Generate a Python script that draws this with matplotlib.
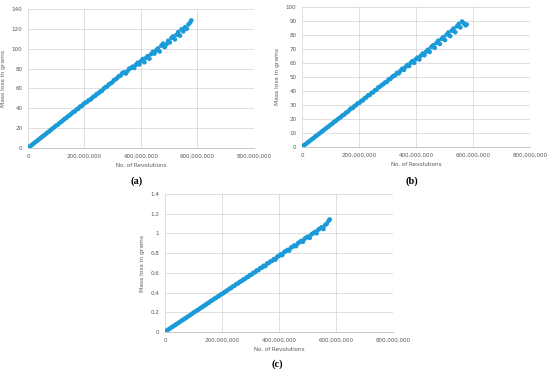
import matplotlib
matplotlib.use("Agg")
import matplotlib.pyplot as plt
from matplotlib.ticker import FuncFormatter

# revolutions (millions) shared by all three panels
revs_m = [0, 5, 10, 16, 22, 28, 34, 40, 46, 52, 58, 64, 70, 76, 82, 88, 94, 100,
          106, 112, 118, 124, 130, 136, 142, 148, 154, 160, 166, 172, 178, 184, 190,
          196, 202, 208, 214, 220, 226, 232, 238, 244, 250, 256, 262, 268, 274, 280,
          286, 292, 298, 304, 310, 316, 322, 328, 334, 340, 346, 352, 358, 364, 370,
          376, 382, 388, 394, 400, 406, 412, 418, 424, 430, 436, 442, 448, 454, 460,
          466, 472, 478, 484, 490, 496, 502, 508, 514, 520, 526, 532, 538, 544, 550,
          556, 562, 568, 574, 578]

loss_a = [0.5, 1.2, 2.3, 3.6, 5.0, 6.3, 7.6, 9.0, 10.3, 11.8, 13.0, 14.4, 15.8, 17.0,
          18.5, 19.8, 21.2, 22.6, 23.6, 25.3, 26.4, 27.9, 29.4, 30.3, 32.0, 33.1, 34.6,
          36.2, 36.9, 38.8, 39.7, 41.6, 42.3, 44.1, 45.5, 46.2, 47.9, 48.6, 50.1, 51.8,
          52.5, 54.6, 55.2, 56.9, 57.6, 59.8, 61.2, 62.0, 63.9, 65.1, 66.0, 68.3, 69.1,
          70.6, 72.4, 73.0, 75.5, 76.2, 75.0, 77.3, 79.8, 80.4, 81.9, 80.6, 83.8, 85.9,
          84.2, 87.5, 89.6, 86.4, 90.8, 92.5, 89.9, 94.6, 96.8, 95.1, 98.4, 100.3, 97.2,
          103.1, 105.2, 101.6, 104.4, 108.0, 106.3, 110.9, 112.5, 109.4, 114.1, 116.8,
          113.2, 119.6, 117.5, 121.8, 120.1, 124.5, 126.3, 128.5]

loss_b = [0.3, 0.9, 1.6, 2.5, 3.5, 4.4, 5.4, 6.3, 7.3, 8.2, 9.1, 10.1, 11.0, 12.0, 12.9,
          13.9, 14.7, 15.8, 16.6, 17.8, 18.5, 19.6, 20.5, 21.3, 22.5, 23.1, 24.4, 25.0,
          26.3, 27.5, 27.8, 29.1, 30.0, 31.2, 31.6, 32.9, 33.4, 34.8, 35.5, 36.9, 37.2,
          38.6, 39.1, 40.5, 41.0, 42.6, 43.1, 44.2, 45.0, 46.1, 46.5, 48.2, 48.6, 49.9,
          50.8, 51.3, 53.0, 52.6, 54.5, 55.9, 55.1, 57.3, 58.6, 57.8, 60.2, 61.4, 60.1,
          62.8, 63.9, 62.5, 65.3, 66.8, 65.6, 68.2, 69.5, 67.9, 71.4, 72.6, 70.8, 74.3,
          75.9, 73.6, 77.2, 78.5, 76.4, 80.3, 81.8, 79.2, 83.1, 84.6, 82.0, 86.2, 87.8,
          85.4, 89.6, 88.3, 86.9, 87.5]

loss_c = [0.003, 0.012, 0.022, 0.033, 0.045, 0.056, 0.068, 0.079, 0.091, 0.102, 0.114,
          0.125, 0.137, 0.148, 0.160, 0.171, 0.183, 0.196, 0.206, 0.219, 0.228, 0.242,
          0.252, 0.265, 0.274, 0.289, 0.298, 0.313, 0.321, 0.336, 0.344, 0.358, 0.366,
          0.381, 0.390, 0.402, 0.414, 0.425, 0.438, 0.447, 0.462, 0.470, 0.486, 0.492,
          0.508, 0.516, 0.530, 0.538, 0.553, 0.560, 0.578, 0.582, 0.601, 0.606, 0.625,
          0.628, 0.649, 0.652, 0.672, 0.668, 0.694, 0.700, 0.716, 0.722, 0.740, 0.735,
          0.763, 0.772, 0.788, 0.781, 0.811, 0.820, 0.832, 0.826, 0.855, 0.866, 0.878,
          0.871, 0.899, 0.912, 0.924, 0.915, 0.945, 0.958, 0.968, 0.955, 0.990, 1.002,
          1.015, 1.001, 1.038, 1.050, 1.062, 1.045, 1.085, 1.100, 1.128, 1.142]

panels = [
    ("(a)", loss_a, [0, 20, 40, 60, 80, 100, 120, 140], 140, [0.0509, 0.6011, 0.4109, 0.3746], (0.249, 0.50)),
    ("(b)", loss_b, [0, 10, 20, 30, 40, 50, 60, 70, 80, 90, 100], 100, [0.549, 0.6038, 0.4145, 0.3774], (0.749, 0.50)),
    ("(c)", loss_c, [0, 0.2, 0.4, 0.6, 0.8, 1, 1.2, 1.4], 1.4, [0.300, 0.1051, 0.4145, 0.372], (0.505, 0.006)),
]
x_ticks = [0, 200e6, 400e6, 600e6, 800e6]
grey = "#595959"
blue = "#1B9AD8"

fig = plt.figure(figsize=(5.5, 3.71), dpi=100)

for label, loss, yticks, ymax, rect, lab_pos in panels:
    ax = fig.add_axes(rect)
    x = [v * 1e6 for v in revs_m]
    ax.scatter(x, loss, s=11, color=blue, edgecolors="none", zorder=3)
    ax.set_xlim(0, 800e6)
    ax.set_ylim(0, ymax)
    ax.set_xticks(x_ticks)
    ax.set_yticks(yticks)
    ax.xaxis.set_major_formatter(FuncFormatter(lambda v, p: f"{int(v):,}"))
    ax.yaxis.set_major_formatter(FuncFormatter(lambda v, p: f"{v:g}"))
    ax.grid(True, color="#d9d9d9", linewidth=0.6)
    ax.set_axisbelow(True)
    for s in ["top", "right", "left"]:
        ax.spines[s].set_visible(False)
    ax.spines["bottom"].set_color("#bfbfbf")
    ax.spines["bottom"].set_linewidth(0.6)
    ax.tick_params(length=0, labelsize=4.1, colors=grey, pad=4)
    ax.set_xlabel("No. of Revolutions", fontsize=4.1, color=grey, labelpad=3)
    ax.set_ylabel("Mass loss in grams", fontsize=4.3, color=grey, labelpad=4)
    fig.text(lab_pos[0], lab_pos[1], label, ha="center", va="bottom",
             fontsize=7.5, family="Liberation Serif", fontweight="bold")

fig.savefig("out.png", dpi=100)
